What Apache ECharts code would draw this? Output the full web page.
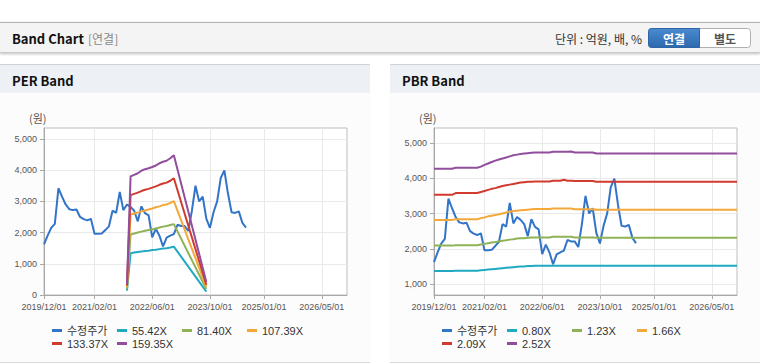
<!DOCTYPE html>
<html>
<head>
<meta charset="utf-8">
<script src="https://cdn.jsdelivr.net/npm/echarts@6/dist/echarts.min.js"></script>
<style>
html,body{margin:0;padding:0;background:#ffffff;}
#c{width:760px;height:364px;}
</style>
</head>
<body>
<div id="c"></div>
<script>
// ---------- DATA ----------
// Monthly categories 2019/12/01 .. 2026/12/01
const firstMonth = [2019, 12];
const monthCount = 85;
const categories = [];
for (let i = 0; i < monthCount; i++) {
  const t = firstMonth[0] * 12 + (firstMonth[1] - 1) + i;
  const y = Math.floor(t / 12), m = (t % 12) + 1;
  categories.push(y + '/' + (m < 10 ? '0' + m : m) + '/01');
}
const xTickLabels = ['2019/12/01', '2021/02/01', '2022/06/01', '2023/10/01', '2025/01/01', '2026/05/01'];
const perYTicks = [0, 1000, 2000, 3000, 4000, 5000];
const pbrYTicks = [1000, 2000, 3000, 4000, 5000];

// 수정주가 (monthly, 2019/12 .. 2024/08)
const price = [1620, 1900, 2150, 2280, 3420, 3150, 2900, 2750, 2720, 2740,
  2500, 2430, 2390, 2440, 1960, 1960, 1970, 2080, 2200, 2700,
  2630, 3300, 2720, 2900, 2820, 2700, 2360, 2840, 2620, 2550,
  1850, 2120, 1900, 1560, 1840, 1900, 1950, 2250, 2210, 2210,
  2050, 2700, 3500, 3000, 3150, 2450, 2150, 2650, 3000, 3750,
  3990, 3250, 2650, 2630, 2680, 2310, 2160];

// PER band (months where the band has values)
const perBandMonths = ['2021/11/01', '2021/12/01', '2022/01/01', '2022/02/01', '2022/03/01',
  '2022/04/01', '2022/05/01', '2022/06/01', '2022/07/01', '2022/08/01', '2022/09/01',
  '2022/10/01', '2022/11/01', '2022/12/01', '2023/09/01'];
const per5542 = [140, 1340, 1360, 1380, 1390, 1410, 1420, 1440, 1450, 1470, 1490, 1500, 1520, 1550, 110];
const per8140 = [200, 1940, 1970, 2000, 2030, 2060, 2080, 2100, 2130, 2160, 2190, 2210, 2240, 2270, 190];
const per10739 = [250, 2580, 2610, 2640, 2680, 2710, 2740, 2770, 2810, 2840, 2880, 2900, 2950, 3010, 260];
const per13337 = [300, 3200, 3240, 3280, 3330, 3370, 3400, 3440, 3480, 3530, 3570, 3600, 3660, 3740, 330];
const per15935 = [350, 3800, 3850, 3900, 3980, 4030, 4060, 4100, 4150, 4220, 4270, 4300, 4380, 4480, 420];

// PBR band (monthly, 2019/12 .. 2026/12)
const pbr080 = [1370, 1370, 1370, 1370, 1370, 1370, 1380, 1380, 1380, 1380,
  1380, 1380, 1380, 1390, 1400, 1410, 1420, 1430, 1440, 1450,
  1460, 1470, 1480, 1490, 1500, 1500, 1510, 1510, 1520, 1520,
  1520, 1520, 1520, 1520, 1520, 1520, 1520, 1520, 1520, 1520,
  1520, 1520, 1520, 1520, 1520, 1520, 1520, 1520, 1520, 1520,
  1520, 1520, 1520, 1520, 1520, 1520, 1520, 1520, 1520, 1520,
  1520, 1520, 1520, 1520, 1520, 1520, 1520, 1520, 1520, 1520,
  1520, 1520, 1520, 1520, 1520, 1520, 1520, 1520, 1520, 1520,
  1520, 1520, 1520, 1520, 1520];
const pbr123 = [2090, 2090, 2090, 2090, 2090, 2090, 2100, 2100, 2100, 2100,
  2100, 2100, 2100, 2120, 2140, 2160, 2180, 2190, 2210, 2230,
  2240, 2260, 2270, 2290, 2300, 2300, 2310, 2320, 2320, 2320,
  2320, 2320, 2320, 2340, 2340, 2340, 2340, 2340, 2340, 2320,
  2320, 2320, 2320, 2320, 2320, 2310, 2310, 2310, 2310, 2310,
  2310, 2310, 2310, 2310, 2310, 2310, 2310, 2310, 2310, 2310,
  2310, 2310, 2310, 2310, 2310, 2310, 2310, 2310, 2310, 2310,
  2310, 2310, 2310, 2310, 2310, 2310, 2310, 2310, 2310, 2310,
  2310, 2310, 2310, 2310, 2310];
const pbr166 = [2820, 2820, 2820, 2820, 2820, 2820, 2840, 2840, 2840, 2840,
  2840, 2840, 2840, 2870, 2890, 2920, 2940, 2960, 2980, 3000,
  3030, 3050, 3070, 3080, 3090, 3100, 3110, 3120, 3130, 3130,
  3130, 3130, 3130, 3140, 3140, 3140, 3140, 3140, 3140, 3120,
  3120, 3120, 3120, 3120, 3120, 3110, 3110, 3110, 3110, 3110,
  3110, 3110, 3110, 3110, 3110, 3110, 3110, 3110, 3110, 3110,
  3110, 3110, 3110, 3110, 3110, 3110, 3110, 3110, 3110, 3110,
  3110, 3110, 3110, 3110, 3110, 3110, 3110, 3110, 3110, 3110,
  3110, 3110, 3110, 3110, 3110];
const pbr209 = [3530, 3530, 3530, 3530, 3530, 3530, 3580, 3580, 3580, 3580,
  3580, 3580, 3580, 3610, 3640, 3670, 3700, 3720, 3750, 3780,
  3800, 3820, 3840, 3860, 3880, 3890, 3900, 3900, 3910, 3910,
  3910, 3910, 3910, 3930, 3930, 3930, 3960, 3930, 3930, 3920,
  3920, 3920, 3920, 3920, 3920, 3900, 3900, 3900, 3900, 3900,
  3900, 3900, 3900, 3900, 3900, 3900, 3900, 3900, 3900, 3900,
  3900, 3900, 3900, 3900, 3900, 3900, 3900, 3900, 3900, 3900,
  3900, 3900, 3900, 3900, 3900, 3900, 3900, 3900, 3900, 3900,
  3900, 3900, 3900, 3900, 3900];
const pbr252 = [4270, 4270, 4270, 4270, 4270, 4270, 4300, 4300, 4300, 4300,
  4300, 4300, 4300, 4330, 4380, 4420, 4460, 4500, 4530, 4560,
  4590, 4620, 4650, 4670, 4690, 4700, 4710, 4720, 4730, 4730,
  4730, 4730, 4730, 4750, 4750, 4750, 4750, 4750, 4760, 4730,
  4730, 4730, 4730, 4730, 4730, 4700, 4700, 4700, 4700, 4700,
  4700, 4700, 4700, 4700, 4700, 4700, 4700, 4700, 4700, 4700,
  4700, 4700, 4700, 4700, 4700, 4700, 4700, 4700, 4700, 4700,
  4700, 4700, 4700, 4700, 4700, 4700, 4700, 4700, 4700, 4700,
  4700, 4700, 4700, 4700, 4700];

const perNames = ['수정주가', '55.42X', '81.40X', '107.39X', '133.37X', '159.35X'];
const pbrNames = ['수정주가', '0.80X', '1.23X', '1.66X', '2.09X', '2.52X'];

// ---------- STYLE ----------
const COLORS = ['#3274c8', '#21a9c1', '#8fb257', '#f3a83b', '#d13a2e', '#914e9c'];
const FONT = "'Liberation Sans', Arial, 'Noto Sans CJK KR', sans-serif";
const KFONT = "'Noto Sans CJK KR', 'Liberation Sans', sans-serif";

const isTick = (idx, val) => xTickLabels.indexOf(val) >= 0;

function xAxis(gridIndex) {
  return {
    type: 'category', gridIndex: gridIndex, data: categories, boundaryGap: false,
    axisLine: { show: true, lineStyle: { color: '#a8a8a8', width: 1 } },
    axisTick: { show: true, length: 4, interval: isTick, lineStyle: { color: '#a8a8a8' } },
    axisLabel: { interval: isTick, color: '#555', fontSize: 9, margin: 7, fontFamily: FONT },
    splitLine: { show: true, interval: isTick, lineStyle: { color: '#e9e9e9', width: 1 } }
  };
}
function yAxis(gridIndex, min, max, ticks) {
  return {
    type: 'value', gridIndex: gridIndex, min: min, max: max, splitNumber: 5,
    axisLine: { show: true, lineStyle: { color: '#a8a8a8', width: 1 } },
    axisTick: { show: true, length: 4, customValues: ticks, lineStyle: { color: '#a8a8a8' } },
    axisLabel: {
      customValues: ticks, color: '#555', fontSize: 9, margin: 7, fontFamily: FONT,
      formatter: v => (ticks.indexOf(v) >= 0 ? v.toLocaleString('en-US') : '')
    },
    splitLine: { show: true, lineStyle: { color: '#e9e9e9', width: 1 } }
  };
}
function lineSeries(name, data, colorIdx, axisIdx) {
  return {
    name: name, type: 'line', data: data, xAxisIndex: axisIdx, yAxisIndex: axisIdx,
    symbol: 'none', showSymbol: false, smooth: false, connectNulls: true,
    lineStyle: { width: 2, color: COLORS[colorIdx] }, itemStyle: { color: COLORS[colorIdx] },
    emphasis: { disabled: true }, animation: false
  };
}
const pairs = (months, vals) => months.map((m, i) => [m, vals[i]]);

function legend(left, names) {
  return {
    left: left, top: 324, width: 270, padding: 0, itemGap: 0, orient: 'horizontal',
    itemWidth: 10, itemHeight: 3, icon: 'rect', data: names, selectedMode: false,
    textStyle: { fontSize: 11, color: '#333', fontFamily: FONT, width: 50, lineHeight: 13 }
  };
}

function panel(x0, title) {
  return [
    { type: 'rect', z: -5, shape: { x: x0, y: 64, width: 370, height: 299 }, style: { fill: '#fcfcfc' } },
    { type: 'rect', z: -4, shape: { x: x0, y: 64, width: 370, height: 29 }, style: { fill: '#edf1f6' } },
    { type: 'line', z: -3, shape: { x1: x0, y1: 64.5, x2: x0 + 370, y2: 64.5 }, style: { stroke: '#d2d2d2', lineWidth: 1 } },
    { type: 'line', z: -3, shape: { x1: x0, y1: 362.5, x2: x0 + 370, y2: 362.5 }, style: { stroke: '#d8d8d8', lineWidth: 1 } },
    { type: 'text', z: 10, x: x0 + 12, y: 80, style: { text: title, fontFamily: KFONT, fontWeight: 'bold', fontSize: 13, fill: '#111', verticalAlign: 'middle' } },
    { type: 'text', z: 10, x: x0 + 29, y: 118, style: { text: '(원)', fontFamily: KFONT, fontSize: 11, fill: '#555', verticalAlign: 'middle' } }
  ];
}

const graphics = [
  { type: 'rect', z: -5, shape: { x: 0, y: 22, width: 760, height: 31 },
    style: { fill: '#f4f4f4', shadowBlur: 3, shadowOffsetY: 1, shadowColor: 'rgba(0,0,0,0.25)' } },
  { type: 'line', z: -4, shape: { x1: 0, y1: 22.5, x2: 760, y2: 22.5 }, style: { stroke: '#b4b4b4', lineWidth: 1 } },
  { type: 'line', z: -4, shape: { x1: 0, y1: 52.5, x2: 760, y2: 52.5 }, style: { stroke: '#c9c9c9', lineWidth: 1 } },
  { type: 'text', z: 10, x: 12, y: 38, style: { text: 'Band Chart', fontFamily: KFONT, fontWeight: 'bold', fontSize: 13, fill: '#111', verticalAlign: 'middle' } },
  { type: 'text', z: 10, x: 88, y: 38, style: { text: '[연결]', fontFamily: KFONT, fontSize: 12, fill: '#8a8a8a', verticalAlign: 'middle' } },
  { type: 'text', z: 10, x: 642, y: 38, style: { text: '단위 : 억원, 배, %', fontFamily: KFONT, fontSize: 12, fill: '#333', align: 'right', verticalAlign: 'middle' } },
  { type: 'rect', z: 5, shape: { x: 648.5, y: 28.5, width: 102, height: 19, r: 3 }, style: { fill: '#ffffff', stroke: '#b0b0b0', lineWidth: 1 } },
  { type: 'rect', z: 6, shape: { x: 648.5, y: 28.5, width: 51, height: 19, r: [3, 0, 0, 3] },
    style: { fill: new echarts.graphic.LinearGradient(0, 0, 0, 1, [{ offset: 0, color: '#4a8ad0' }, { offset: 1, color: '#2d69ad' }]), stroke: '#2f65a5', lineWidth: 1 } },
  { type: 'text', z: 10, x: 674, y: 38.5, style: { text: '연결', fontFamily: KFONT, fontWeight: 'bold', fontSize: 12, fill: '#ffffff', align: 'center', verticalAlign: 'middle' } },
  { type: 'text', z: 10, x: 725, y: 38.5, style: { text: '별도', fontFamily: KFONT, fontWeight: 'bold', fontSize: 12, fill: '#555', align: 'center', verticalAlign: 'middle' } }
].concat(panel(0, 'PER Band'), panel(390, 'PBR Band'));

const option = {
  animation: false,
  backgroundColor: '#ffffff',
  textStyle: { fontFamily: FONT },
  graphic: { elements: graphics },
  grid: [
    { left: 44, top: 128, width: 303, height: 167, show: true, backgroundColor: '#ffffff', borderColor: '#bdbdbd', borderWidth: 1, containLabel: false },
    { left: 434, top: 128, width: 303, height: 167, show: true, backgroundColor: '#ffffff', borderColor: '#bdbdbd', borderWidth: 1, containLabel: false }
  ],
  xAxis: [xAxis(0), xAxis(1)],
  yAxis: [yAxis(0, 0, 5350, perYTicks), yAxis(1, 690, 5425, pbrYTicks)],
  legend: [legend(52, perNames), legend(442, pbrNames)],
  series: [
    lineSeries(perNames[0], price, 0, 0),
    lineSeries(perNames[1], pairs(perBandMonths, per5542), 1, 0),
    lineSeries(perNames[2], pairs(perBandMonths, per8140), 2, 0),
    lineSeries(perNames[3], pairs(perBandMonths, per10739), 3, 0),
    lineSeries(perNames[4], pairs(perBandMonths, per13337), 4, 0),
    lineSeries(perNames[5], pairs(perBandMonths, per15935), 5, 0),
    lineSeries(pbrNames[0], price, 0, 1),
    lineSeries(pbrNames[1], pbr080, 1, 1),
    lineSeries(pbrNames[2], pbr123, 2, 1),
    lineSeries(pbrNames[3], pbr166, 3, 1),
    lineSeries(pbrNames[4], pbr209, 4, 1),
    lineSeries(pbrNames[5], pbr252, 5, 1)
  ]
};

const chart = echarts.init(document.getElementById('c'), null, { renderer: 'svg', width: 760, height: 364 });
chart.setOption(option);
</script>
</body>
</html>
